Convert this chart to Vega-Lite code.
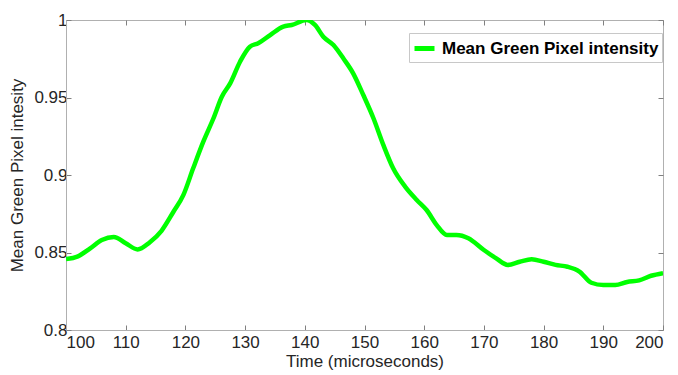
{
  "$schema": "https://vega.github.io/schema/vega-lite/v6.json",
  "width": 597,
  "height": 310,
  "autosize": "none",
  "padding": {"left": 66, "top": 20, "right": 15, "bottom": 45},
  "background": "white",
  "config": {
    "font": "Liberation Sans",
    "view": {"stroke": "#b0b0b0", "strokeWidth": 1},
    "axis": {"grid": false, "domainColor": "#b0b0b0", "tickColor": "#808080", "labelColor": "#262626", "titleColor": "#262626", "labelFontSize": 17, "titleFontSize": 17, "titleFontWeight": "normal", "tickSize": -5}
  },
  "data": {"values": [
    {"t": 100, "v": 0.8458, "s": "Mean Green Pixel intensity"},
    {"t": 102, "v": 0.8475, "s": "Mean Green Pixel intensity"},
    {"t": 104, "v": 0.8525, "s": "Mean Green Pixel intensity"},
    {"t": 106, "v": 0.8580, "s": "Mean Green Pixel intensity"},
    {"t": 108, "v": 0.8600, "s": "Mean Green Pixel intensity"},
    {"t": 110, "v": 0.8560, "s": "Mean Green Pixel intensity"},
    {"t": 112, "v": 0.8520, "s": "Mean Green Pixel intensity"},
    {"t": 114, "v": 0.8565, "s": "Mean Green Pixel intensity"},
    {"t": 116, "v": 0.8640, "s": "Mean Green Pixel intensity"},
    {"t": 118, "v": 0.8763, "s": "Mean Green Pixel intensity"},
    {"t": 119.65, "v": 0.8870, "s": "Mean Green Pixel intensity"},
    {"t": 121.3, "v": 0.9043, "s": "Mean Green Pixel intensity"},
    {"t": 123.0, "v": 0.9215, "s": "Mean Green Pixel intensity"},
    {"t": 124.7, "v": 0.9366, "s": "Mean Green Pixel intensity"},
    {"t": 126.1, "v": 0.9505, "s": "Mean Green Pixel intensity"},
    {"t": 127.5, "v": 0.9591, "s": "Mean Green Pixel intensity"},
    {"t": 129.15, "v": 0.9731, "s": "Mean Green Pixel intensity"},
    {"t": 130.8, "v": 0.9828, "s": "Mean Green Pixel intensity"},
    {"t": 132.2, "v": 0.9850, "s": "Mean Green Pixel intensity"},
    {"t": 134.2, "v": 0.9903, "s": "Mean Green Pixel intensity"},
    {"t": 136.4, "v": 0.9957, "s": "Mean Green Pixel intensity"},
    {"t": 137.8, "v": 0.9968, "s": "Mean Green Pixel intensity"},
    {"t": 140.3, "v": 1.0000, "s": "Mean Green Pixel intensity"},
    {"t": 141.7, "v": 0.9968, "s": "Mean Green Pixel intensity"},
    {"t": 143.1, "v": 0.9892, "s": "Mean Green Pixel intensity"},
    {"t": 144.8, "v": 0.9839, "s": "Mean Green Pixel intensity"},
    {"t": 146.5, "v": 0.9750, "s": "Mean Green Pixel intensity"},
    {"t": 148.1, "v": 0.9656, "s": "Mean Green Pixel intensity"},
    {"t": 149.8, "v": 0.9516, "s": "Mean Green Pixel intensity"},
    {"t": 151.5, "v": 0.9366, "s": "Mean Green Pixel intensity"},
    {"t": 153.15, "v": 0.9194, "s": "Mean Green Pixel intensity"},
    {"t": 154.8, "v": 0.9043, "s": "Mean Green Pixel intensity"},
    {"t": 156.8, "v": 0.8925, "s": "Mean Green Pixel intensity"},
    {"t": 158.75, "v": 0.8839, "s": "Mean Green Pixel intensity"},
    {"t": 160.4, "v": 0.8774, "s": "Mean Green Pixel intensity"},
    {"t": 162.1, "v": 0.8677, "s": "Mean Green Pixel intensity"},
    {"t": 163.8, "v": 0.8613, "s": "Mean Green Pixel intensity"},
    {"t": 165.4, "v": 0.8613, "s": "Mean Green Pixel intensity"},
    {"t": 167.4, "v": 0.8592, "s": "Mean Green Pixel intensity"},
    {"t": 170, "v": 0.8516, "s": "Mean Green Pixel intensity"},
    {"t": 172, "v": 0.8464, "s": "Mean Green Pixel intensity"},
    {"t": 174, "v": 0.8420, "s": "Mean Green Pixel intensity"},
    {"t": 176, "v": 0.8440, "s": "Mean Green Pixel intensity"},
    {"t": 178, "v": 0.8456, "s": "Mean Green Pixel intensity"},
    {"t": 180, "v": 0.8440, "s": "Mean Green Pixel intensity"},
    {"t": 182, "v": 0.8420, "s": "Mean Green Pixel intensity"},
    {"t": 184, "v": 0.8408, "s": "Mean Green Pixel intensity"},
    {"t": 186, "v": 0.8377, "s": "Mean Green Pixel intensity"},
    {"t": 188, "v": 0.8305, "s": "Mean Green Pixel intensity"},
    {"t": 190, "v": 0.8290, "s": "Mean Green Pixel intensity"},
    {"t": 192, "v": 0.8290, "s": "Mean Green Pixel intensity"},
    {"t": 194, "v": 0.8310, "s": "Mean Green Pixel intensity"},
    {"t": 196, "v": 0.8320, "s": "Mean Green Pixel intensity"},
    {"t": 198, "v": 0.8350, "s": "Mean Green Pixel intensity"},
    {"t": 200, "v": 0.8367, "s": "Mean Green Pixel intensity"}
  ]},
  "layer": [
    {
      "mark": {"type": "line", "strokeWidth": 4.5, "interpolate": "monotone", "clip": true},
      "encoding": {
        "x": {"field": "t", "type": "quantitative", "scale": {"domain": [100, 200], "nice": false, "zero": false},
              "axis": {"title": "Time (microseconds)", "values": [100,110,120,130,140,150,160,170,180,190,200], "labelPadding": 9, "titlePadding": 3}},
        "y": {"field": "v", "type": "quantitative", "scale": {"domain": [0.8, 1], "nice": false, "zero": false},
              "axis": {"title": "Mean Green Pixel intesity", "values": [0.8,0.85,0.9,0.95,1], "format": "~g", "labelPadding": 4, "titlePadding": 7}},
        "color": {"field": "s", "type": "nominal", "scale": {"range": ["#00ff00"]},
                  "legend": {"title": null, "orient": "none", "legendX": 343, "legendY": 13, "symbolType": "stroke", "symbolStrokeWidth": 5, "symbolSize": 400, "labelFontSize": 17, "labelFontWeight": "bold", "labelColor": "#000000", "labelOffset": 5, "strokeColor": "#c8c8c8", "fillColor": "white", "padding": 3, "labelLimit": 400}}
      }
    },
    {
      "mark": {"type": "line", "opacity": 0},
      "encoding": {
        "x": {"field": "t", "type": "quantitative", "axis": {"orient": "top", "labels": false, "title": null, "values": [100,110,120,130,140,150,160,170,180,190,200], "domain": false}},
        "y": {"field": "v", "type": "quantitative", "axis": {"orient": "right", "labels": false, "title": null, "values": [0.8,0.85,0.9,0.95,1], "domain": false}}
      }
    }
  ],
  "resolve": {"axis": {"x": "independent", "y": "independent"}}
}
